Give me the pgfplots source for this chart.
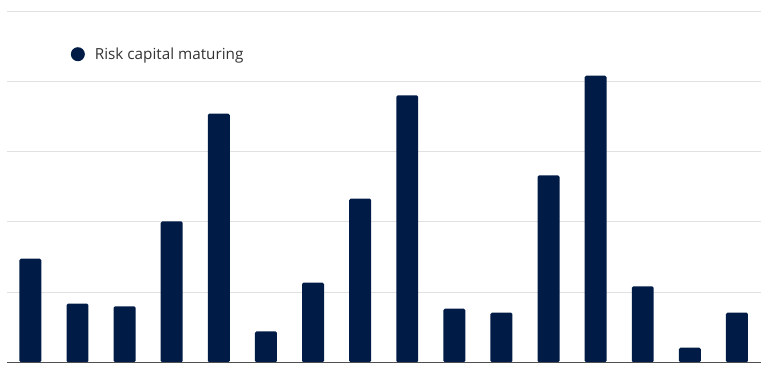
\documentclass[border=0pt]{standalone}
\usepackage{pgfplots}
\pgfplotsset{compat=1.18}
\usepackage{fontspec}
\setmainfont{Open Sans}
\definecolor{navy}{RGB}{0,28,70}
\definecolor{gridc}{RGB}{225,225,225}
\definecolor{basec}{RGB}{80,80,80}
\definecolor{txt}{RGB}{51,51,51}
\begin{document}
\begin{tikzpicture}
\begin{axis}[
  scale only axis,
  width=755pt, height=352pt,
  xmin=-0.5, xmax=15.5,
  ymin=0, ymax=5,
  axis line style={draw=none},
  ytick={1,2,3,4,5},
  yticklabels={},
  xtick=\empty,
  major tick length=0pt,
  ymajorgrids,
  grid style={gridc, line width=0.8pt},
  ybar, bar width=22pt,
  legend style={draw=none, fill=none, at={(0.0807,0.877)}, anchor=west,
    font=\fontsize{15.3pt}{17pt}\selectfont\color{txt},
    nodes={inner xsep=6pt}},
  legend image code/.code={\fill[navy] (0pt,0pt) circle (7pt); \path (11pt,0pt);},
  clip=false,
]
\addplot[fill=navy, draw=none, rounded corners=1.5pt] coordinates {
(0,1.475) (1,0.835) (2,0.797) (3,2.006) (4,3.54) (5,0.441) (6,1.134) (7,2.33)
(8,3.80) (9,0.764) (10,0.707) (11,2.66) (12,4.08) (13,1.08) (14,0.209) (15,0.707)
};
\addlegendentry{Risk capital maturing}
\draw[basec, line width=1pt] (rel axis cs:0,0) -- (rel axis cs:1,0);
\end{axis}
\path (current axis.south west) ++(-6pt,-4pt) rectangle ([yshift=11pt]current axis.north east);
\end{tikzpicture}
\end{document}
